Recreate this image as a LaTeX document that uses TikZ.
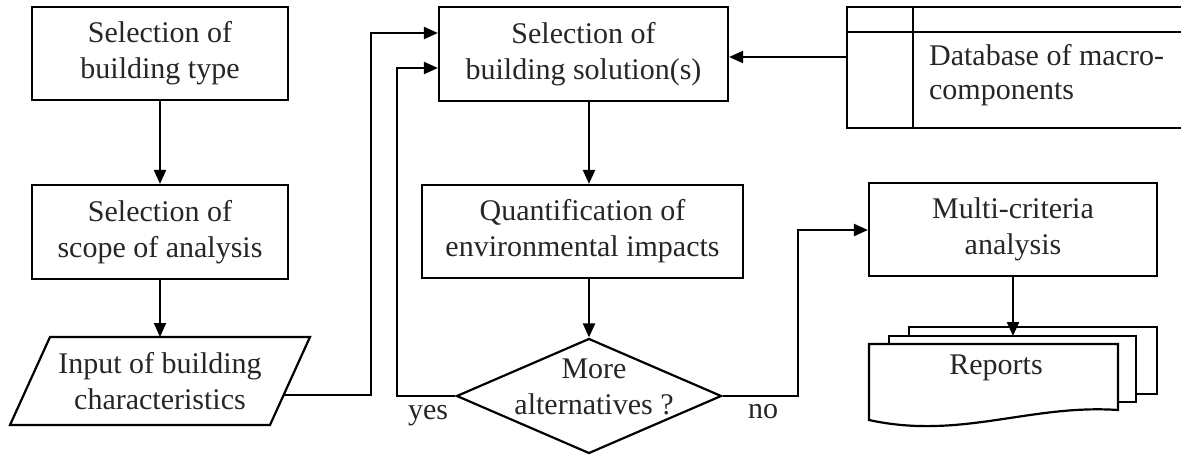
\documentclass[tikz,border=0pt]{standalone}
\usepackage{fontspec}
\setmainfont{Liberation Serif}
\usetikzlibrary{arrows.meta,shapes.geometric}
\begin{document}
\begin{tikzpicture}[x=1pt,y=-1pt,
  line width=2.2pt,
  every node/.style={font=\fontsize{30}{36}\selectfont, text=black!85},
  box/.style={draw, rectangle, align=center, inner sep=0},
  arr/.style={-{Triangle[length=14pt,width=12pt]}},
  plain/.style={inner sep=0, align=center}]
\useasboundingbox (0,0) rectangle (1181,457);

% left column
\node[box, minimum width=256pt, minimum height=93pt] (b1) at (160,53.5) {Selection of\\building type};
\node[box, minimum width=256pt, minimum height=94pt] (b2) at (160,232) {Selection of\\scope of analysis};
\draw (50,337) -- (310,337) -- (270,425) -- (10,425) -- cycle;
\node[plain] (para) at (160,381) {Input of building\\characteristics};
\coordinate (paraN) at (160,337);
\coordinate (paraE) at (283.6,395);

% middle column
\node[box, minimum width=289pt, minimum height=94pt] (sol) at (583.5,54) {Selection of\\building solution(s)};
\node[box, minimum width=321pt, minimum height=93pt] (quant) at (582.5,231.5) {Quantification of\\environmental impacts};
\node[diamond, draw, minimum width=265pt, minimum height=115pt, inner sep=0] (dec) at (589,396) {};
\node[plain] (dectext) at (594,387) {More\\alternatives ?};
\node[plain, anchor=base] (yes) at (428,419) {yes};
\node[plain, anchor=base] (no) at (763,418) {no};

% database
\draw (1181,7) -- (847,7) -- (847,128) -- (1181,128);
\draw (847,32) -- (1181,32);
\draw (913,7) -- (913,128);
\node[plain, align=left, anchor=west, font=\fontsize{30}{34}\selectfont] (db) at (928,75) {Database of macro-\\components};
\coordinate (dbW) at (847,57);

% right column
\node[box, minimum width=288pt, minimum height=93pt] (multi) at (1013,229.5) {Multi-criteria\\analysis};
\draw[fill=white] (909,336) -- (909,327) -- (1157,327) -- (1157,394) -- (1136,394);
\draw[fill=white] (889,344) -- (889,336) -- (1136,336) -- (1136,402) -- (1118,402);
\draw[fill=white] (869,420) -- (869,344) -- (1118,344) -- (1118,410)
  .. controls (1030,404) and (960,440) .. (869,420) -- cycle;
\node[plain] (rep) at (996,368) {Reports};
\coordinate (repN) at (1013,336);

% connectors
\coordinate (j1) at (371,33);
\coordinate (j2) at (397,68);
\coordinate (j3) at (798,230);
\draw[arr] (b1) -- (b2);
\draw[arr] (b2) -- (paraN);
\draw[arr] (paraE) -| (j1) -- (sol.west |- j1);
\draw[arr] (dec.west) -| (j2) -- (sol.west |- j2);
\draw[arr] (dbW) -- (sol.east |- dbW);
\draw[arr] (sol.south -| dec.north) -- (quant.north -| dec.north);
\draw[arr] (quant.south -| dec.north) -- (dec.north);
\draw[arr] (dec.east) -| (j3) -- (multi.west |- j3);
\draw[arr] (multi.south) -- (repN);
\end{tikzpicture}
\end{document}
